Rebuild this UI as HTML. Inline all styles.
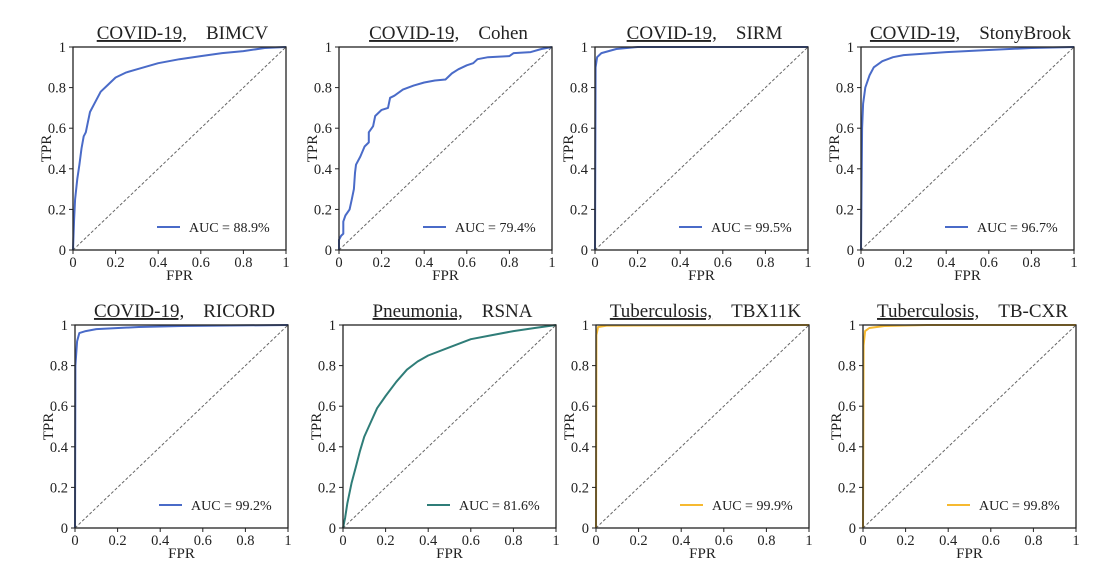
<!DOCTYPE html>
<html><head><meta charset="utf-8"><style>
html,body{margin:0;padding:0;background:#fff;}
svg{display:block;font-family:"Liberation Serif",serif;}
</style></head><body>
<svg id="c" width="1118" height="576" viewBox="0 0 1118 576"></svg>
<script>
const panelTitlesA = ["COVID-19,","COVID-19,","COVID-19,","COVID-19,","COVID-19,","Pneumonia,","Tuberculosis,","Tuberculosis,"];
const panelTitlesB = ["BIMCV","Cohen","SIRM","StonyBrook","RICORD","RSNA","TBX11K","TB-CXR"];
const aucLabels = ["AUC = 88.9%","AUC = 79.4%","AUC = 99.5%","AUC = 96.7%","AUC = 99.2%","AUC = 81.6%","AUC = 99.9%","AUC = 99.8%"];
const tickValues = [0,0.2,0.4,0.6,0.8,1];
const tickLabels = ["0","0.2","0.4","0.6","0.8","1"];
const fpr1=[0,0.005,0.01,0.02,0.03,0.04,0.05,0.06,0.07,0.08,0.1,0.13,0.16,0.2,0.25,0.3,0.4,0.5,0.6,0.7,0.8,0.9,1];
const tpr1=[0,0.15,0.25,0.35,0.42,0.5,0.56,0.58,0.63,0.68,0.72,0.78,0.81,0.85,0.875,0.89,0.92,0.94,0.955,0.97,0.98,0.995,1];
const fpr2=[0,0,0.01,0.02,0.02,0.03,0.05,0.06,0.07,0.075,0.08,0.1,0.12,0.14,0.14,0.16,0.17,0.2,0.23,0.24,0.26,0.3,0.35,0.4,0.45,0.5,0.53,0.56,0.6,0.63,0.65,0.7,0.8,0.82,0.9,0.95,1];
const tpr2=[0,0.05,0.07,0.08,0.14,0.17,0.2,0.25,0.3,0.38,0.42,0.46,0.51,0.53,0.58,0.61,0.66,0.69,0.7,0.75,0.76,0.79,0.81,0.825,0.835,0.84,0.87,0.89,0.91,0.92,0.94,0.95,0.955,0.97,0.975,0.99,1];
const fpr3=[0,0.003,0.01,0.03,0.1,0.2,1];
const tpr3=[0,0.9,0.95,0.97,0.99,1,1];
const fpr4=[0,0.005,0.01,0.02,0.04,0.06,0.1,0.15,0.2,0.4,0.6,0.8,1];
const tpr4=[0,0.6,0.72,0.8,0.86,0.9,0.93,0.95,0.96,0.975,0.985,0.995,1];
const fpr5=[0,0.002,0.01,0.02,0.05,0.1,0.3,0.5,1];
const tpr5=[0,0.8,0.92,0.96,0.97,0.98,0.99,0.995,1];
const fpr6=[0,0.01,0.02,0.04,0.06,0.08,0.1,0.13,0.16,0.2,0.25,0.3,0.35,0.4,0.5,0.6,0.7,0.8,0.9,1];
const tpr6=[0,0.05,0.12,0.22,0.3,0.38,0.45,0.52,0.59,0.65,0.72,0.78,0.82,0.85,0.89,0.93,0.95,0.97,0.985,1];
const fpr7=[0,0.002,0.01,0.05,1];
const tpr7=[0,0.95,0.99,0.997,1];
const fpr8=[0,0.003,0.01,0.03,0.1,0.3,1];
const tpr8=[0,0.9,0.97,0.985,0.995,1,1];
const fprs=[fpr1,fpr2,fpr3,fpr4,fpr5,fpr6,fpr7,fpr8];
const tprs=[tpr1,tpr2,tpr3,tpr4,tpr5,tpr6,tpr7,tpr8];
const colors=["#4a6bc8","#4a6bc8","#4a6bc8","#4a6bc8","#4a6bc8","#2f7d78","#f6b930","#f6b930"];
const lefts=[73,339,595,861,75,343,596,863];
const tops=[47,47,47,47,325,325,325,325];
const W=213,H=203;
const NS="http://www.w3.org/2000/svg";
const svg=document.getElementById('c');
function el(t,a,p){const e=document.createElementNS(NS,t);for(const k in a)e.setAttribute(k,a[k]);(p||svg).appendChild(e);return e;}
for(let i=0;i<8;i++){
  const L=lefts[i],T=tops[i];
  const sx=v=>L+v*W, sy=v=>T+H-v*H;
  const g=el('g',{});
  
  
  const d=el('line',{x1:sx(0),y1:sy(0),x2:sx(1),y2:sy(1),stroke:'#666','stroke-width':1,'stroke-dasharray':'3,2'},g);
  
  
  let pts=fprs[i].map((f,j)=>sx(f).toFixed(1)+','+sy(tprs[i][j]).toFixed(1)).join(' ');
  const c=el('polyline',{points:pts,fill:'none',stroke:colors[i],'stroke-width':2,'stroke-linejoin':'round'},g);
  
  
  const f=el('rect',{x:L,y:T,width:W,height:H,fill:'none',stroke:'#222','stroke-width':1.3},g);
  
  
  tickValues.forEach((v,k)=>{
    el('line',{x1:sx(v),y1:T+H,x2:sx(v),y2:T+H+4,stroke:'#222'},g);
    el('line',{x1:L-4,y1:sy(v),x2:L,y2:sy(v),stroke:'#222'},g);
    const tx=el('text',{x:sx(v),y:T+H+17,'font-size':14.5,'text-anchor':'middle',fill:'#222'},g);
    tx.textContent=tickLabels[k];
    
    
    const ty=el('text',{x:L-7,y:sy(v)+5,'font-size':14.5,'text-anchor':'end',fill:'#222'},g);
    ty.textContent=tickLabels[k];
    
    
  });
  const xt=el('text',{x:L+W/2,y:T+H+30,'font-size':15,'text-anchor':'middle',fill:'#222'},g);
  xt.textContent='FPR';
  
  
  const yt=el('text',{x:0,y:0,'font-size':15,'text-anchor':'middle',fill:'#222',transform:`translate(${L-22},${T+H/2}) rotate(-90)`},g);
  yt.textContent='TPR';
  
  
  const tt=el('text',{x:L+W/2+3,y:T-8,'font-size':19,'text-anchor':'middle',fill:'#222'},g);
  
  
  const s1=el('tspan',{'text-decoration':'underline'},tt);s1.textContent=panelTitlesA[i];
  const s2=el('tspan',{},tt);s2.textContent='\u00a0\u00a0\u00a0\u00a0'+panelTitlesB[i];
  const ly=T+H-23;
  const ll=el('line',{x1:L+84,y1:ly,x2:L+107,y2:ly,stroke:colors[i],'stroke-width':2},g);
  
  
  const lt=el('text',{x:L+116,y:ly+5,'font-size':14,fill:'#222'},g);
  lt.textContent=aucLabels[i];
  
  
}
</script>
</body></html>
